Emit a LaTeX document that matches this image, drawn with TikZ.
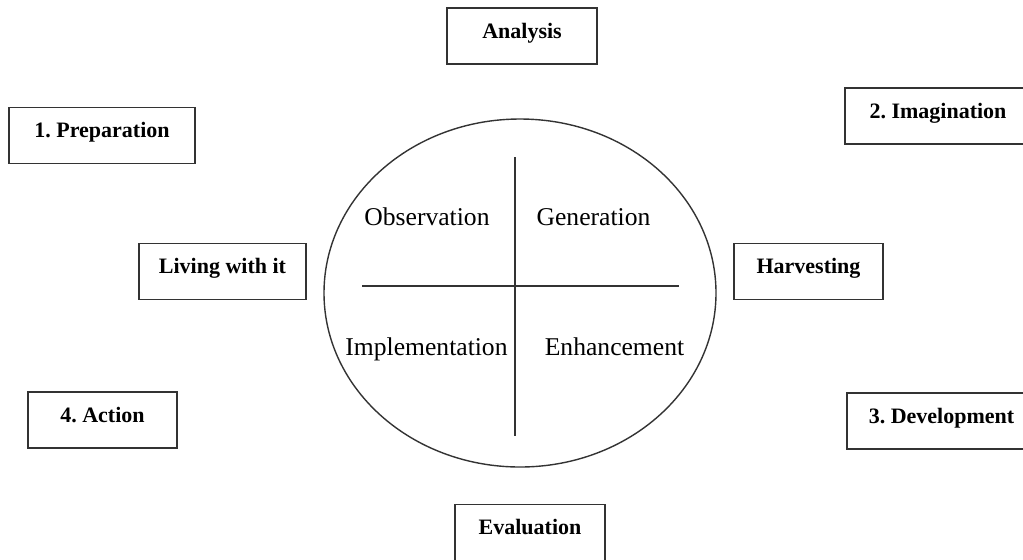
\documentclass[tikz,border=0pt]{standalone}
\usepackage{fontspec}
\setmainfont{Liberation Serif}
\usepackage{tikz}
\usetikzlibrary{shapes,positioning,calc}

\tikzset{
  stage/.style={draw=black!80, line width=0.7pt, rectangle, inner sep=0pt,
    minimum height=28pt, text height=8pt, text depth=6pt,
    font=\fontsize{11}{13}\selectfont\bfseries},
  quad/.style={anchor=base, inner sep=0pt, font=\fontsize{12.8}{15}\selectfont},
  divider/.style={draw=black!80, line width=0.7pt}
}

\begin{document}
\begin{tikzpicture}[x=0.5pt,y=-0.5pt]
\useasboundingbox (0,0) rectangle (1023,559);
\clip (0,0) rectangle (1023,559);
% nodes
 \node[ellipse, draw=black!80, line width=0.7pt, minimum width=196pt, minimum height=174pt, inner sep=0pt] (cycle) at (520,293) {};
 \node[stage, minimum width=75pt] (ana) at (522,36) {Analysis};
 \node[stage, minimum width=93pt] (prep) at (102,135.5) {1.\ Preparation};
 \node[stage, minimum width=93pt] (imag) at (938,116) {2.\ Imagination};
 \node[stage, minimum width=83.5pt] (live) at (222.5,271.5) {Living with it};
 \node[stage, minimum width=74.5pt] (harv) at (808.5,271.5) {Harvesting};
 \node[stage, minimum width=74.5pt] (act) at (102.5,420) {4.\ Action};
 \node[stage, minimum width=94.5pt] (dev) at (941.5,421) {3.\ Development};
 \node[stage, minimum width=75pt] (eval) at (530,532.5) {Evaluation};
% quadrants
 \node[quad] (obs) at (427,225) {Observation};
 \node[quad] (gen) at (593.5,225) {Generation};
 \node[quad] (impl) at (426.5,355) {Implementation};
 \node[quad] (enh) at (614.5,355) {Enhancement};
 \coordinate (vtop) at (515,157);
 \coordinate (vbot) at (515,436);
 \coordinate (hleft) at (362,286);
 \coordinate (hright) at (679,286);
% edges
 \draw[divider] (vtop) -- (vbot);
 \draw[divider] (hleft) -- (hright);
\end{tikzpicture}
\end{document}
